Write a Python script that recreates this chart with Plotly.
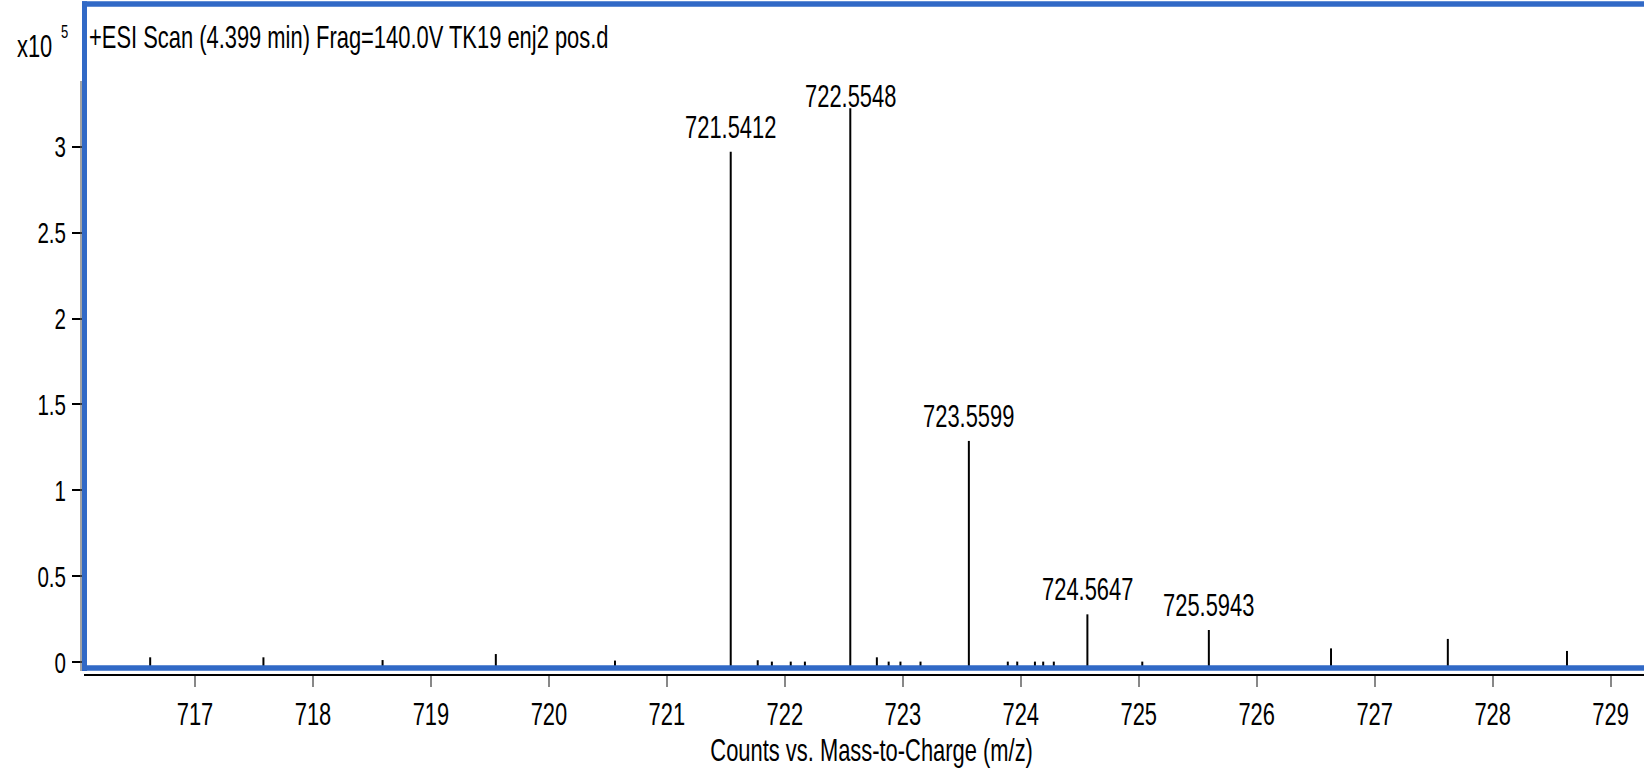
import plotly.graph_objects as go

# ---------------- data (intensities in units of 10^5 counts) ----------------
mz_labeled = [721.5412, 722.5548, 723.5599, 724.5647, 725.5943]
int_labeled = [2.971, 3.223, 1.288, 0.279, 0.188]

mz_minor = [716.62, 717.58, 718.59, 719.55, 720.56,
            721.77, 721.89, 722.05, 722.17,
            722.78, 722.88, 722.98, 723.15,
            723.89, 723.97, 724.12, 724.19, 724.28,
            725.03, 726.63, 727.62, 728.63]
int_minor = [0.029, 0.029, 0.013, 0.048, 0.010,
             0.012, 0.004, 0.004, 0.004,
             0.029, 0.004, 0.004, 0.004,
             0.004, 0.004, 0.004, 0.004, 0.004,
             0.004, 0.081, 0.136, 0.066]

x_tick_vals = [717, 718, 719, 720, 721, 722, 723, 724, 725, 726, 727, 728, 729]
y_tick_vals = [0, 0.5, 1, 1.5, 2, 2.5, 3]
y_tick_text = ["0", "0.5", "1", "1.5", "2", "2.5", "3"]

title_text = "+ESI Scan (4.399 min) Frag=140.0V TK19 enj2 pos.d"
x_title = "Counts vs. Mass-to-Charge (m/z)"
y_scale_base = "x10"
y_scale_exp = "5"

# ---------------- style ----------------
FONT = "Liberation Sans, Arial, sans-serif"
BLUE = "#3169C6"
W, H = 1644, 774
ML, MR, MT, MB = 84, 0, 4, 100
X_RANGE = [716.059, 729.283]
Y_RANGE = [-0.0681, 3.830]
STEM_BASE = -0.03
FS = 32          # main text size
FS_Y = 30        # y tick label size
SQUEEZE = 0.685  # horizontal condensing of all text (narrow typeface look)

plot_w = W - ML - MR
plot_h = H - MT - MB


def py(v):
    return (v - Y_RANGE[0]) / (Y_RANGE[1] - Y_RANGE[0])


def px_paper_x(pix):
    return (pix - ML) / plot_w


def px_paper_y(pix):
    return (H - MB - pix) / plot_h


# build stems from the data
all_mz = mz_labeled + mz_minor
all_int = int_labeled + int_minor
sx, sy = [], []
for m, v in zip(all_mz, all_int):
    sx += [m, m, None]
    sy += [STEM_BASE, v, None]

fig = go.Figure()
fig.add_trace(go.Scatter(x=sx, y=sy, mode="lines",
                         line=dict(color="black", width=2),
                         hoverinfo="skip", showlegend=False))

annotations = []
for m, v in zip(mz_labeled, int_labeled):
    shift = 5 if v < 3.1 else -8
    annotations.append(dict(x=m, y=v, xref="x", yref="y", text=f"{m:.4f}",
                            showarrow=False, yanchor="bottom", xanchor="center",
                            yshift=shift, font=dict(family=FONT, size=FS, color="black")))

annotations.append(dict(x=px_paper_x(87), y=px_paper_y(37), xref="paper", yref="paper",
                        text=title_text, showarrow=False, xanchor="left", yanchor="middle",
                        align="left", font=dict(family=FONT, size=FS, color="black")))
annotations.append(dict(x=px_paper_x(15), y=px_paper_y(46), xref="paper", yref="paper",
                        text=y_scale_base, showarrow=False, xanchor="left", yanchor="middle",
                        align="left", font=dict(family=FONT, size=FS, color="black")))
annotations.append(dict(x=px_paper_x(59), y=px_paper_y(31), xref="paper", yref="paper",
                        text=y_scale_exp, showarrow=False, xanchor="left", yanchor="middle",
                        align="left", font=dict(family=FONT, size=19, color="black")))
annotations.append(dict(x=px_paper_x(871), y=px_paper_y(750), xref="paper", yref="paper",
                        text=x_title, showarrow=False, xanchor="center", yanchor="middle",
                        font=dict(family=FONT, size=FS, color="black")))

shapes = [
    # gray y-axis line
    dict(type="line", xref="paper", yref="paper", x0=px_paper_x(81), x1=px_paper_x(81),
         y0=px_paper_y(671), y1=px_paper_y(81), line=dict(color="#666666", width=1.2), layer="above"),
    # blue frame: top, left, bottom
    dict(type="line", xref="paper", yref="paper", x0=px_paper_x(82), x1=1.02,
         y0=1, y1=1, line=dict(color=BLUE, width=5.5), layer="above"),
    dict(type="line", xref="paper", yref="paper", x0=px_paper_x(84.5), x1=px_paper_x(84.5),
         y0=py(-0.05), y1=1.004, line=dict(color=BLUE, width=5), layer="above"),
    dict(type="line", xref="paper", yref="paper", x0=px_paper_x(82.5), x1=1.02,
         y0=py(-0.0332), y1=py(-0.0332), line=dict(color=BLUE, width=5.5), layer="above"),
]

fig.update_layout(
    width=W, height=H, autosize=False,
    margin=dict(l=ML, r=MR, t=MT, b=MB, pad=0),
    paper_bgcolor="white", plot_bgcolor="white",
    font=dict(family=FONT, size=FS, color="black"),
    showlegend=False,
    annotations=annotations,
    shapes=shapes,
    xaxis=dict(range=X_RANGE, tickmode="array", tickvals=x_tick_vals,
               showline=True, linecolor="black", linewidth=2,
               ticks="outside", ticklen=11, tickwidth=1.5, tickcolor="#888888",
               showgrid=False, zeroline=False,
               tickfont=dict(family=FONT, size=FS, color="black")),
    yaxis=dict(range=Y_RANGE, tickmode="array", tickvals=y_tick_vals, ticktext=y_tick_text,
               showline=False, ticks="outside", ticklen=11, tickwidth=1.5, tickcolor="black",
               showgrid=False, zeroline=False,
               tickfont=dict(family=FONT, size=FS_Y, color="black")),
)

# condense every text horizontally around its anchor, like the narrow typeface of the original
squeeze_js = """
var gd = document.getElementById('{plot_id}');
var S = %s;
gd.querySelectorAll('text').forEach(function(t){
  if (!t.textContent || !t.textContent.trim()) return;
  if (t.getAttribute('data-sq')) return;
  var bb = t.getBBox();
  if (!bb.width) return;
  var a = t.getAttribute('text-anchor') || 'start';
  var cx = (a === 'start') ? bb.x : ((a === 'end') ? bb.x + bb.width : bb.x + bb.width / 2);
  var orig = t.getAttribute('transform') || '';
  t.setAttribute('transform', orig + ' translate(' + cx + ',0) scale(' + S + ',1) translate(' + (-cx) + ',0)');
  t.setAttribute('data-sq', '1');
});
""" % SQUEEZE

fig.write_html("out.html", config={"displayModeBar": False}, post_script=squeeze_js)
